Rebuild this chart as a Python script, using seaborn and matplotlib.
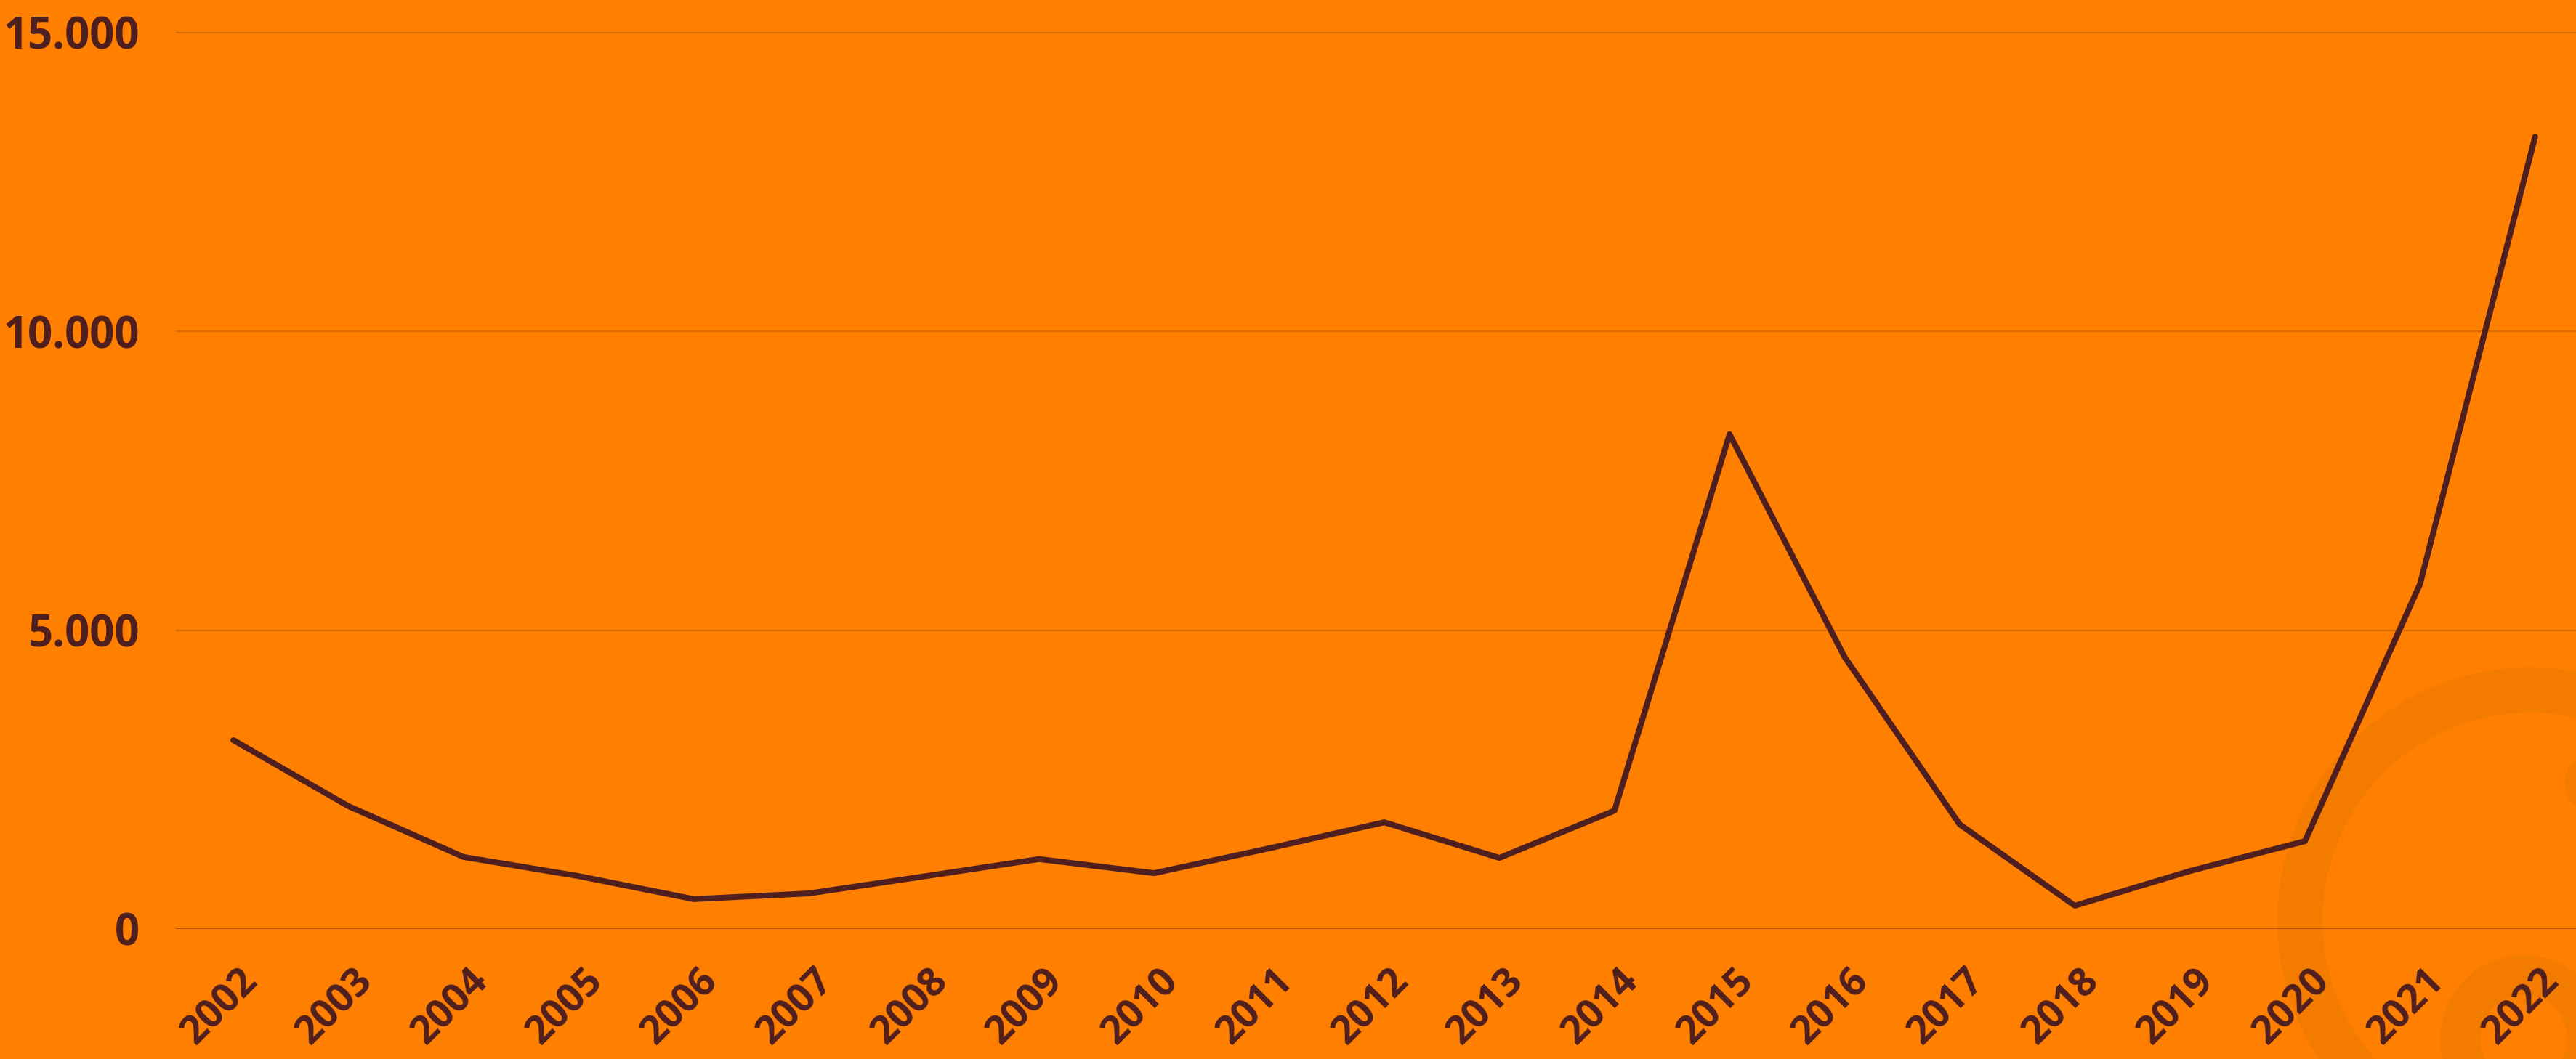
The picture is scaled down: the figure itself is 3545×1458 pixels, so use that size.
import matplotlib
matplotlib.use("Agg")
import matplotlib.pyplot as plt
import matplotlib.transforms as mtransforms
from matplotlib.patches import Wedge, FancyBboxPatch
import pandas as pd
import seaborn as sns

# values
years = list(range(2002, 2023))
values = [3160, 2055, 1205, 885, 500, 595, 880, 1170, 935, 1350, 1785,
          1190, 1980, 8280, 4550, 1750, 390, 970, 1470, 5775, 13260]
y_ticks = [0, 5000, 10000, 15000]
y_tick_labels = ["0", "5.000", "10.000", "15.000"]

BG = "#FF8000"
INK = "#4F1F1F"
GRID = "#D86C00"
ZERO = "#A9530A"
MARK = "#F37C00"

sns.set_theme(style="white", rc={
    "figure.facecolor": BG,
    "axes.facecolor": "none",
    "savefig.facecolor": BG,
})
plt.rcParams["font.family"] = ["Open Sans", "DejaVu Sans"]

W, H, DPI = 3545, 1458, 100
fig = plt.figure(figsize=(W / DPI, H / DPI), dpi=DPI)


def px(x, y):
    # pixel position (from top-left) -> inches from bottom-left
    return (x / DPI, (H - y) / DPI)


# faint logo in the lower right corner
for patch in [
    Wedge(px(3482, 1267), 3.48, 0, 360, width=0.62),
    Wedge(px(3473, 1430), 1.15, 0, 360, width=0.55),
    FancyBboxPatch(px(3530, 1113), 1.0, 0.69, boxstyle="round,pad=0,rounding_size=0.34"),
]:
    patch.set_transform(fig.dpi_scale_trans)
    patch.set_facecolor(MARK)
    patch.set_edgecolor("none")
    patch.set_zorder(-1)
    fig.add_artist(patch)

ax = fig.add_axes([242 / W, 179 / H, (3568 - 242) / W, 1275.2 / H])

df = pd.DataFrame({"year": years, "value": values})
sns.lineplot(data=df, x="year", y="value", ax=ax, color=INK, linewidth=5.8)
for line in ax.get_lines():
    line.set_solid_capstyle("round")
    line.set_solid_joinstyle("round")

ax.set_xlim(years[0] - 0.5, years[-1] + 0.5)
ax.set_ylim(0, 15500)
ax.set_xticks(years)
ax.set_xticklabels([str(y) for y in years])
ax.set_yticks(y_ticks)
ax.set_yticklabels(y_tick_labels)
ax.set_xlabel("")
ax.set_ylabel("")

ax.grid(axis="y", color=GRID, linewidth=1.6)
ax.grid(axis="x", visible=False)
ax.axhline(0, color=ZERO, linewidth=2.2, zorder=1)
for side in ["top", "right", "left", "bottom"]:
    ax.spines[side].set_visible(False)

ax.tick_params(axis="y", length=0, pad=36, labelsize=43, labelcolor=INK)
ax.tick_params(axis="x", length=0, pad=32, labelsize=39, labelcolor=INK)
for lbl in ax.get_yticklabels():
    lbl.set_fontweight("bold")
offset = mtransforms.ScaledTranslation(-0.18, 0, fig.dpi_scale_trans)
for lbl in ax.get_xticklabels():
    lbl.set_fontweight("bold")
    lbl.set_rotation(45)
    lbl.set_ha("center")
    lbl.set_transform(lbl.get_transform() + offset)

fig.savefig("out.png", dpi=DPI, facecolor=BG)
